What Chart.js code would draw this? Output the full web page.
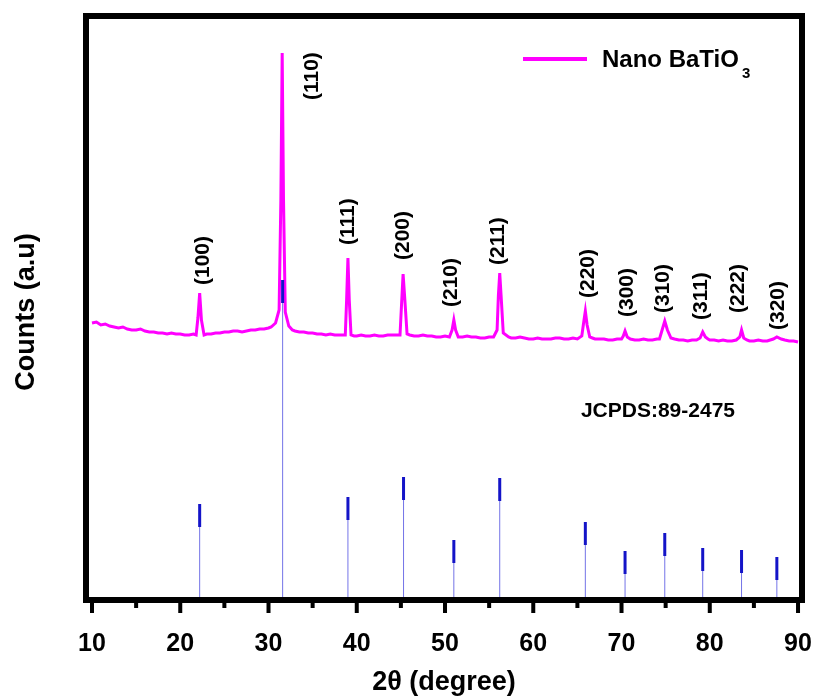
<!DOCTYPE html>
<html>
<head>
<meta charset="utf-8">
<script src="https://cdn.jsdelivr.net/npm/chart.js@4/dist/chart.umd.min.js"></script>
<style>
	html, body { margin: 0; padding: 0; background: #fff; overflow: hidden; }
	#wrap { width: 815px; height: 696px; position: relative; }
	#xrd { display: block; }
</style>
</head>
<body>
<div id="wrap"><canvas id="xrd"></canvas></div>
<script>
// measured pattern, 2theta (degree) vs counts (a.u.)
const twoTheta = [
	10.0, 10.5, 11.0, 11.5, 12.0, 12.5, 13.0, 13.5, 14.0, 14.5, 15.0, 15.5, 16.0, 16.5, 17.0, 17.5,
	18.0, 18.5, 19.0, 19.5, 20.0, 20.5, 21.0, 21.5, 21.8, 22.0, 22.2, 22.4, 22.7, 23.0, 23.5, 24.0,
	24.5, 25.0, 25.5, 26.0, 26.5, 27.0, 27.5, 28.0, 28.5, 29.0, 29.5, 30.0, 30.3, 30.8, 31.2, 31.4,
	31.55, 31.7, 31.9, 32.3, 32.7, 33.0, 33.5, 34.0, 34.5, 35.0, 35.5, 36.0, 36.5, 37.0, 37.5, 38.0,
	38.7, 38.85, 39.0, 39.15, 39.35, 39.7, 40.0, 40.5, 41.0, 41.5, 42.0, 42.5, 43.0, 43.5, 44.0, 44.5,
	44.9, 45.1, 45.25, 45.45, 45.7, 46.0, 46.5, 47.0, 47.5, 48.0, 48.5, 49.0, 49.5, 50.0, 50.5, 50.8,
	51.0, 51.2, 51.5, 52.0, 52.5, 53.0, 53.5, 54.0, 54.5, 55.0, 55.5, 55.9, 56.05, 56.2, 56.35, 56.6,
	57.2, 57.5, 58.0, 58.5, 59.0, 59.5, 60.0, 60.5, 61.0, 61.5, 62.0, 62.5, 63.0, 63.5, 64.0, 64.5,
	65.0, 65.5, 65.75, 65.9, 66.1, 66.4, 66.7, 67.0, 67.5, 68.0, 68.5, 69.0, 69.5, 70.0, 70.2, 70.4,
	70.65, 71.0, 71.5, 72.0, 72.5, 73.0, 73.5, 74.0, 74.3, 74.6, 74.9, 75.2, 75.6, 76.0, 76.5, 77.0,
	77.5, 78.0, 78.5, 78.9, 79.2, 79.5, 79.8, 80.0, 80.5, 81.0, 81.5, 82.0, 82.5, 83.0, 83.4, 83.6,
	83.85, 84.2, 84.5, 85.0, 85.5, 86.0, 86.5, 87.2, 87.6, 88.1, 88.5, 89.0, 89.5, 90.0
];
const counts = [
	277, 278, 275, 276, 274, 273, 272, 273, 271, 270, 270, 271, 269, 268, 268, 267,
	267, 266, 267, 266, 266, 265, 265, 266, 265, 282, 307, 280, 265, 266, 266, 267,
	267, 268, 268, 269, 269, 268, 269, 270, 270, 271, 271, 272, 273, 277, 290, 400,
	547, 400, 288, 274, 270, 269, 268, 268, 267, 267, 266, 266, 265, 266, 265, 265,
	265, 300, 342, 300, 265, 264, 264, 265, 264, 264, 265, 264, 264, 265, 265, 265,
	265, 300, 326, 300, 266, 265, 264, 264, 265, 264, 264, 263, 263, 264, 263, 270,
	280, 270, 263, 263, 264, 263, 263, 262, 262, 263, 263, 270, 305, 327, 305, 267,
	263, 262, 262, 263, 262, 261, 261, 262, 261, 261, 261, 262, 262, 261, 261, 262,
	261, 264, 280, 289, 275, 263, 262, 261, 261, 261, 260, 260, 261, 261, 264, 269,
	263, 261, 260, 260, 261, 260, 260, 261, 261, 270, 279, 270, 262, 261, 260, 260,
	259, 260, 260, 262, 268, 263, 261, 260, 260, 259, 260, 259, 259, 260, 263, 270,
	262, 260, 259, 259, 260, 259, 259, 261, 263, 261, 260, 259, 259, 258
];

// JCPDS 89-2475 reference lines
const refPositions = [22.2, 31.6, 39.0, 45.3, 51.0, 56.2, 65.9, 70.4, 74.9, 79.2, 83.6, 87.6];
const refIntensities = [96, 320, 103, 123, 60, 122, 78, 49, 67, 52, 50, 43];

// hkl labels and where they sit (2theta, counts)
const hklLabels = ["(100)", "(110)", "(111)", "(200)", "(210)", "(211)", "(220)", "(300)", "(310)", "(311)", "(222)", "(320)"];
const hklTheta = [22.6, 34.9, 39.0, 45.3, 50.7, 56.0, 66.2, 70.6, 74.7, 79.0, 83.2, 87.7];
const hklCounts = [315, 500, 355, 340, 293, 335, 302, 283, 287, 280, 287, 270];

const majorTicks = [10, 20, 30, 40, 50, 60, 70, 80, 90];
const minorTicks = [15, 25, 35, 45, 55, 65, 75, 85];

const FONT = "'Liberation Sans', Arial, sans-serif";

const patternData = twoTheta.map((t, i) => ({ x: t, y: counts[i] }));

const stickData = [];
const stickTopData = [];
refPositions.forEach((p, i) => {
	const top = refIntensities[i];
	stickData.push({ x: p, y: 0 }, { x: p, y: top }, { x: p, y: null });
	stickTopData.push({ x: p, y: top - 23 }, { x: p, y: top }, { x: p, y: null });
});

const decorPlugin = {
	id: "decor",
	afterDatasetsDraw(chart) {
		const { ctx, chartArea } = chart;
		const xs = chart.scales.x;
		const ys = chart.scales.y;
		ctx.save();

		// hkl labels
		ctx.fillStyle = "#000";
		ctx.font = "bold 21px " + FONT;
		ctx.textAlign = "left";
		ctx.textBaseline = "middle";
		hklLabels.forEach((lab, i) => {
			ctx.save();
			ctx.translate(xs.getPixelForValue(hklTheta[i]), ys.getPixelForValue(hklCounts[i]));
			ctx.rotate(-Math.PI / 2);
			ctx.fillText(lab, 0, 0);
			ctx.restore();
		});

		// reference card text
		ctx.font = "bold 21px " + FONT;
		ctx.textBaseline = "alphabetic";
		ctx.fillText("JCPDS:89-2475", xs.getPixelForValue(65.4), ys.getPixelForValue(183));

		// legend
		const lx = chartArea.right - 279;
		const ly = 59;
		ctx.strokeStyle = "#ff00ff";
		ctx.lineWidth = 4;
		ctx.beginPath();
		ctx.moveTo(lx, ly);
		ctx.lineTo(lx + 64, ly);
		ctx.stroke();
		ctx.font = "bold 24px " + FONT;
		ctx.fillText("Nano BaTiO", lx + 79, 67);
		const w = ctx.measureText("Nano BaTiO").width;
		ctx.font = "bold 15px " + FONT;
		ctx.fillText("3", lx + 79 + w + 3, 78);

		// frame
		ctx.strokeStyle = "#000";
		ctx.lineWidth = 6;
		ctx.strokeRect(chartArea.left, chartArea.top, chartArea.right - chartArea.left, chartArea.bottom - chartArea.top);

		// tick marks (outward)
		ctx.lineWidth = 4;
		ctx.beginPath();
		majorTicks.forEach((v) => {
			const px = xs.getPixelForValue(v);
			ctx.moveTo(px, chartArea.bottom);
			ctx.lineTo(px, chartArea.bottom + 13);
		});
		minorTicks.forEach((v) => {
			const px = xs.getPixelForValue(v);
			ctx.moveTo(px, chartArea.bottom);
			ctx.lineTo(px, chartArea.bottom + 8);
		});
		ctx.stroke();

		// axis titles
		ctx.fillStyle = "#000";
		ctx.font = "bold 27px " + FONT;
		ctx.textAlign = "center";
		ctx.textBaseline = "middle";
		ctx.fillText("2\u03B8 (degree)", (chartArea.left + chartArea.right) / 2, 683);
		ctx.save();
		ctx.translate(27, 312);
		ctx.rotate(-Math.PI / 2);
		ctx.fillText("Counts (a.u)", 0, 0);
		ctx.restore();

		ctx.restore();
	},
};

new Chart(document.getElementById("xrd"), {
	type: "line",
	data: {
		datasets: [
			{
				label: "JCPDS top",
				data: stickTopData,
				borderColor: "#1414c8",
				borderWidth: 3,
				pointRadius: 0,
				spanGaps: false,
				order: 0,
			},
			{
				label: "JCPDS",
				data: stickData,
				borderColor: "rgba(80,80,225,0.8)",
				borderWidth: 1,
				pointRadius: 0,
				spanGaps: false,
				order: 1,
			},
			{
				label: "Nano BaTiO3",
				data: patternData,
				borderColor: "#ff00ff",
				borderWidth: 3,
				pointRadius: 0,
				tension: 0,
				order: 2,
			},
		],
	},
	options: {
		responsive: true,
		maintainAspectRatio: false,
		animation: false,
		layout: {
			padding: { left: 86, right: 13, top: 16, bottom: 0 },
		},
		plugins: {
			legend: { display: false },
			tooltip: { enabled: false },
		},
		scales: {
			x: {
				type: "linear",
				min: 9.32,
				max: 90.45,
				grid: { display: false },
				border: { display: false },
				afterBuildTicks: (scale) => {
					scale.ticks = majorTicks.map((v) => ({ value: v }));
				},
				afterFit: (scale) => {
					scale.height = 96;
					scale.paddingLeft = 0;
					scale.paddingRight = 0;
				},
				ticks: {
					autoSkip: false,
					maxRotation: 0,
					padding: 21,
					color: "#000",
					font: { family: FONT, size: 25, weight: "bold" },
				},
			},
			y: {
				display: false,
				min: 0,
				max: 584,
			},
		},
	},
	plugins: [decorPlugin],
});
</script>
</body>
</html>
